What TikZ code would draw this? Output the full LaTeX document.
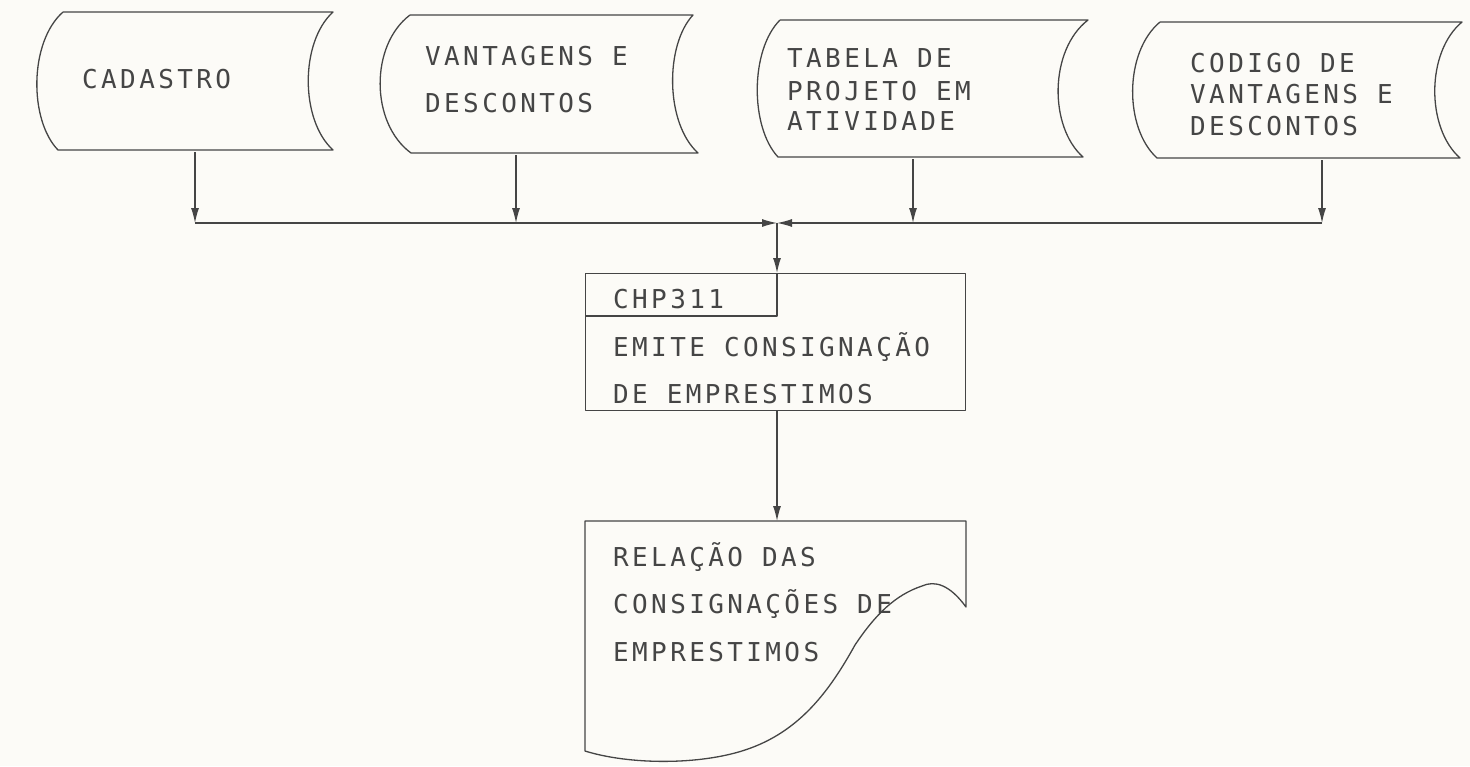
\documentclass[tikz,border=0pt]{standalone}
\usepackage{fontspec}
\usetikzlibrary{arrows.meta}
\newfontfamily\plotfont[LetterSpace=13]{DejaVu Sans Mono}
\definecolor{ink}{HTML}{454545}
\definecolor{paper}{HTML}{FCFBF7}
\tikzset{
  txt/.style={font=\plotfont\fontsize{26}{26}\selectfont, anchor=base west, inner sep=0pt, text=ink},
  outline/.style={draw=ink, line width=1.3pt, line join=round},
  conn/.style={draw=ink, line width=1.2pt, -{Latex[length=15pt,width=8pt]}},
}
\begin{document}
\begin{tikzpicture}[x=1pt,y=-1pt]
\fill[paper] (0,0) rectangle (1470,766);
\useasboundingbox (0,0) rectangle (1470,766);

% storage shapes
\draw[outline] (63,12) -- (333,12) .. controls (300,42) and (300,120) .. (333,150)
  -- (58,150) .. controls (29,120) and (29,42) .. (63,12);
\draw[outline] (410,15) -- (693,15) .. controls (665,45) and (665,123) .. (698,153)
  -- (411,153) .. controls (370,123) and (370,45) .. (410,15);
\draw[outline] (780,20) -- (1088,20) .. controls (1049,50) and (1049,127) .. (1083,157)
  -- (778,157) .. controls (750,127) and (750,50) .. (780,20);
\draw[outline] (1160,22) -- (1462,22) .. controls (1426,52) and (1426,128) .. (1460,158)
  -- (1157,158) .. controls (1124,128) and (1124,52) .. (1160,22);

% texts of storage shapes
\node[txt] (t1) at (82,88) {CADASTRO};
\node[txt] (t2a) at (425,65) {VANTAGENS E};
\node[txt] (t2b) at (425,112) {DESCONTOS};
\node[txt] (t3a) at (787,67) {TABELA DE};
\node[txt] (t3b) at (787,100) {PROJETO EM};
\node[txt] (t3c) at (787,130) {ATIVIDADE};
\node[txt] (t4a) at (1190,72) {CODIGO DE};
\node[txt] (t4b) at (1190,103) {VANTAGENS E};
\node[txt] (t4c) at (1190,135) {DESCONTOS};

% connector points
\coordinate (b1) at (195,152);
\coordinate (b2) at (516,155);
\coordinate (b3) at (913,159);
\coordinate (b4) at (1322,160);
\coordinate (j1) at (195,223);
\coordinate (j2) at (516,223);
\coordinate (j3) at (913,223);
\coordinate (j4) at (1322,223);
\coordinate (jc) at (777,223);

\draw[conn] (b1) -- (j1);
\draw[conn] (b2) -- (j2);
\draw[conn] (b3) -- (j3);
\draw[conn] (b4) -- (j4);
\draw[conn] (j1) -- (jc);
\draw[conn] (j4) -- (jc);

% process box
\node[outline, rectangle, minimum width=380pt, minimum height=137pt, anchor=north west, inner sep=0pt] (proc) at (585,273) {};
\coordinate (ptop) at (777,273);
\coordinate (pbot) at (777,410);
\draw[conn] (jc) -- (ptop);
\draw[outline] (585,316) -- (777,316) -- (ptop);
\node[txt] (p1) at (613,308) {CHP311};
\node[txt] (p2) at (613,356) {EMITE CONSIGNAÇÃO};
\node[txt] (p3) at (613,403) {DE EMPRESTIMOS};

% document
\coordinate (dtop) at (777,521);
\draw[conn] (pbot) -- (dtop);
\draw[outline] (585,521) -- (966,521) -- (966,607)
  .. controls (950,585) and (935,580) .. (922,586)
  .. controls (895,595) and (875,615) .. (855,645)
  .. controls (830,690) and (800,732) .. (745,750)
  .. controls (700,765) and (630,765) .. (585,751) -- cycle;
\node[txt] (d1) at (613,566) {RELAÇÃO DAS};
\node[txt] (d2) at (613,613) {CONSIGNAÇÕES DE};
\node[txt] (d3) at (613,661) {EMPRESTIMOS};
\end{tikzpicture}
\end{document}
